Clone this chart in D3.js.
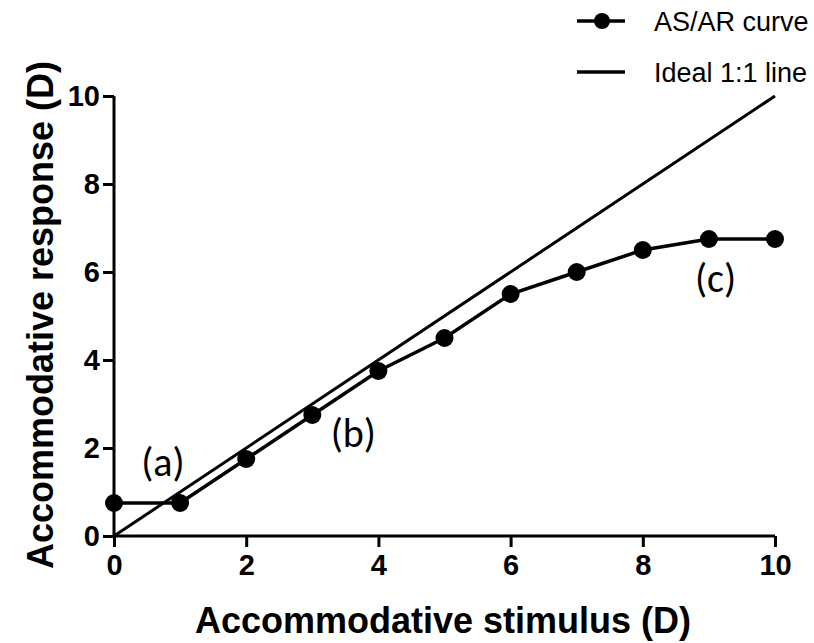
<!DOCTYPE html>
<html><head><meta charset="utf-8">
<script src="https://d3js.org/d3.v7.min.js"></script>
<style>body{margin:0;background:#fff}svg{display:block}</style>
</head><body>
<script>
const stimulus = [0,1,2,3,4,5,6,7,8,9,10];
const response = [0.75,0.75,1.75,2.75,3.75,4.5,5.5,6,6.5,6.75,6.75];
const idealLine = [[0,0],[10,10]];
const xTicks = [0,2,4,6,8,10];
const yTicks = [0,2,4,6,8,10];
const annotations = [{label:"(a)", x:0.74, y:1.36},{label:"(b)", x:3.62, y:2.02},{label:"(c)", x:9.1, y:5.55}];
const legendItems = ["AS/AR curve","Ideal 1:1 line"];

const W=814,H=643;
const svg=d3.select("body").append("svg").attr("width",W).attr("height",H);
const x=d3.scaleLinear().domain([0,10]).range([114,775]);
const y=d3.scaleLinear().domain([0,10]).range([536,96]);
const font="Liberation Sans, Arial, sans-serif";

const xa=svg.append("g").attr("transform",`translate(0,${y(0)})`)
  .call(d3.axisBottom(x).tickValues(xTicks).tickSize(11).tickPadding(7).tickFormat(d3.format("d")));
const ya=svg.append("g").attr("transform",`translate(${x(0)},0)`)
  .call(d3.axisLeft(y).tickValues(yTicks).tickSize(11).tickPadding(3).tickFormat(d3.format("d")));
[xa,ya].forEach(a=>{
  a.select(".domain").attr("stroke","#000").attr("stroke-width",3);
  a.selectAll(".tick line").attr("stroke","#000").attr("stroke-width",3);
  a.selectAll(".tick text").attr("fill","#000").style("font-family",font)
   .style("font-weight","bold").style("font-size","29px");
});
xa.select(".domain").attr("d",`M${x(0)},0H${x(10)}`);
ya.select(".domain").attr("d",`M0,${y(10)}V${y(0)}`);

const line=d3.line().x(d=>x(d[0])).y(d=>y(d[1]));
svg.append("path").datum(idealLine).attr("d",line).attr("fill","none").attr("stroke","#000").attr("stroke-width",3);
const pts=stimulus.map((s,i)=>[s,response[i]]);
svg.append("path").datum(pts).attr("d",line).attr("fill","none").attr("stroke","#000").attr("stroke-width",3.5);
svg.selectAll("circle.pt").data(pts).join("circle").attr("class","pt")
  .attr("cx",d=>x(d[0])).attr("cy",d=>y(d[1])).attr("r",9).attr("fill","#000");

svg.selectAll("text.ann").data(annotations).join("text").attr("class","ann")
  .attr("x",d=>x(d.x)).attr("y",d=>y(d.y)).attr("text-anchor","middle")
  .style("font-family","Carlito, Calibri, 'Open Sans', sans-serif").style("font-size","40px").attr("fill","#000").text(d=>d.label);

svg.append("text").attr("x",443).attr("y",633).attr("text-anchor","middle")
  .style("font-family",font).style("font-weight","bold").style("font-size","36px").text("Accommodative stimulus (D)");
svg.append("text").attr("transform","translate(53,315) rotate(-90)").attr("text-anchor","middle")
  .style("font-family",font).style("font-weight","bold").style("font-size","36px").text("Accommodative response (D)");

const lg=svg.append("g");
legendItems.forEach((t,i)=>{
  const yy=21+i*51;
  lg.append("line").attr("x1",577).attr("x2",625).attr("y1",yy).attr("y2",yy).attr("stroke","#000").attr("stroke-width",3.5);
  if(i===0) lg.append("circle").attr("cx",602).attr("cy",yy).attr("r",8).attr("fill","#000");
  lg.append("text").attr("x",654).attr("y",yy+10).style("font-family",font).style("font-size","27px").text(t);
});
</script>
</body></html>
